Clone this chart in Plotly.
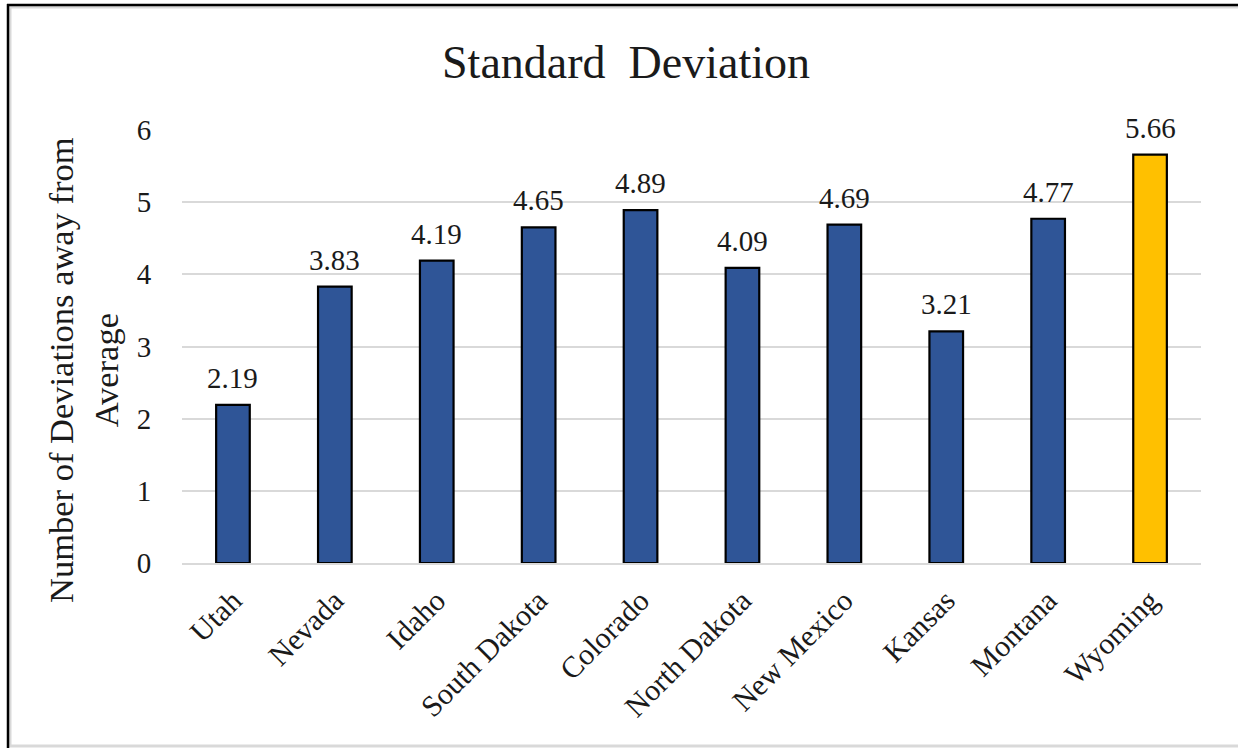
import plotly.graph_objects as go

# Chart data
states = ["Utah", "Nevada", "Idaho", "South Dakota", "Colorado",
          "North Dakota", "New Mexico", "Kansas", "Montana", "Wyoming"]
std_devs = [2.19, 3.83, 4.19, 4.65, 4.89, 4.09, 4.69, 3.21, 4.77, 5.66]
y_ticks = [0, 1, 2, 3, 4, 5, 6]

BLUE = "#2F5597"
GOLD = "#FFC000"
bar_colors = [GOLD if s == "Wyoming" else BLUE for s in states]

W, H = 1238, 748
M_L, M_R, M_T, M_B = 182, 37, 130, 185
PLOT_W = W - M_L - M_R
PLOT_H = H - M_T - M_B


def px_x(px):
    return (px - M_L) / PLOT_W


def px_y(py):
    return (H - M_B - py) / PLOT_H


FONT = "Liberation Serif, Times New Roman, serif"
TXT = "#1a1a1a"

fig = go.Figure(
    go.Bar(
        x=states,
        y=std_devs,
        marker=dict(color=bar_colors, line=dict(color="black", width=2.2)),
        width=0.33,
        cliponaxis=False,
    )
)

# value labels above each bar
value_labels = [
    dict(
        x=s, y=v, xref="x", yref="y",
        text=f"{v:.2f}",
        showarrow=False,
        xanchor="center", yanchor="bottom",
        yshift=9,
        font=dict(family=FONT, size=29, color=TXT),
    )
    for s, v in zip(states, std_devs)
]

fig.update_layout(
    width=W,
    height=H,
    margin=dict(l=M_L, r=M_R, t=M_T, b=M_B),
    paper_bgcolor="white",
    plot_bgcolor="white",
    showlegend=False,
    font=dict(family=FONT, color=TXT),
    title=dict(
        text="Standard&nbsp;&nbsp;Deviation",
        x=626 / W,
        xanchor="center",
        xref="container",
        y=1 - 62 / H,
        yanchor="middle",
        yref="container",
        font=dict(family=FONT, size=46, color=TXT),
    ),
    xaxis=dict(
        tickangle=-45,
        tickfont=dict(family=FONT, size=30, color=TXT),
        showgrid=False,
        showline=True,
        linecolor="#D9D9D9",
        linewidth=2,
        ticks="outside",
        ticklen=6,
        tickcolor="rgba(0,0,0,0)",
    ),
    yaxis=dict(
        range=[0, 6],
        tickvals=y_ticks,
        tickfont=dict(family=FONT, size=29, color=TXT),
        showgrid=True,
        gridcolor="#D9D9D9",
        gridwidth=2,
        zeroline=False,
        showline=False,
        ticks="outside",
        ticklen=24,
        tickcolor="rgba(0,0,0,0)",
    ),
    annotations=value_labels + [
        dict(
            text="Number of Deviations away from<br>Average",
            xref="paper",
            yref="paper",
            x=px_x(83),
            y=px_y(370),
            xanchor="center",
            yanchor="middle",
            textangle=-90,
            showarrow=False,
            font=dict(family=FONT, size=34.5, color=TXT),
        )
    ],
    shapes=[
        # outer chart frame
        dict(type="rect", xref="paper", yref="paper",
             x0=px_x(10), x1=px_x(1240), y0=px_y(746), y1=px_y(7),
             line=dict(color="#D9D9D9", width=3), layer="below"),
        dict(type="line", xref="paper", yref="paper",
             x0=px_x(7), x1=px_x(1240), y0=px_y(5), y1=px_y(5),
             line=dict(color="black", width=2.5)),
        dict(type="line", xref="paper", yref="paper",
             x0=px_x(8), x1=px_x(8), y0=px_y(4), y1=px_y(750),
             line=dict(color="black", width=2.5)),
    ],
)

fig.write_html("out.html")
